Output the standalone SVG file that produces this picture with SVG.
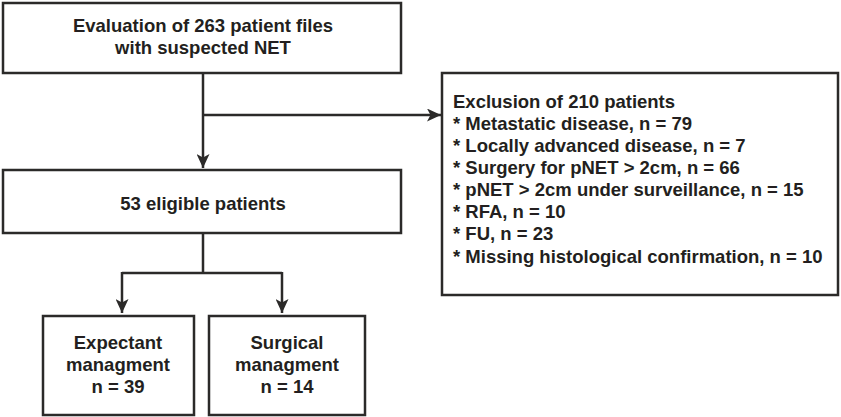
<svg xmlns="http://www.w3.org/2000/svg" width="841" height="417" viewBox="0 0 841 417">
<defs>
<style>
.box{fill:#fff;stroke:#2b2a29;stroke-width:2.5}
.ln{fill:none;stroke:#2b2a29;stroke-width:2.5}
text{font-family:"Liberation Sans",Arial,sans-serif;font-weight:bold;font-size:18.5px;fill:#231f20}
.c{text-anchor:middle}
</style>
<marker id="ah" viewBox="0 0 10 10" refX="10" refY="5" markerWidth="14" markerHeight="13" markerUnits="userSpaceOnUse" orient="auto" preserveAspectRatio="none">
<path d="M0,0 L10,5 L0,10 L2.5,5 Z" fill="#2b2a29"/>
</marker>
</defs>
<rect width="841" height="417" fill="#fff"/>
<g id="connectors">
<path class="ln" d="M203,73 V168" marker-end="url(#ah)"/>
<path class="ln" d="M203,115 H441" marker-end="url(#ah)"/>
<path class="ln" d="M203,233 V273 M122,273 H282"/>
<path class="ln" d="M122,272 V313" marker-end="url(#ah)"/>
<path class="ln" d="M282,272 V313" marker-end="url(#ah)"/>
</g>
<g id="n1">
<rect class="box" x="3" y="3" width="398" height="70"/>
<text class="c" x="203" y="32">Evaluation of 263 patient files</text>
<text class="c" x="203" y="54">with suspected NET</text>
</g>
<g id="n2">
<rect class="box" x="3" y="170" width="398" height="63"/>
<text class="c" x="203" y="210">53 eligible patients</text>
</g>
<g id="n3">
<rect class="box" x="442" y="73" width="396" height="222"/>
<text x="453" y="108">Exclusion of 210 patients</text>
<text x="453" y="130">* Metastatic disease, n = 79</text>
<text x="453" y="152">* Locally advanced disease, n = 7</text>
<text x="453" y="174">* Surgery for pNET &gt; 2cm, n = 66</text>
<text x="453" y="196">* pNET &gt; 2cm under surveillance, n = 15</text>
<text x="453" y="218">* RFA, n = 10</text>
<text x="453" y="240">* FU, n = 23</text>
<text x="453" y="263">* Missing histological confirmation, n = 10</text>
</g>
<g id="n4">
<rect class="box" x="43" y="316" width="151" height="99"/>
<text class="c" x="118" y="349">Expectant</text>
<text class="c" x="118" y="371">managment</text>
<text class="c" x="118" y="393">n = 39</text>
</g>
<g id="n5">
<rect class="box" x="209" y="316" width="156" height="99"/>
<text class="c" x="287" y="349">Surgical</text>
<text class="c" x="287" y="371">managment</text>
<text class="c" x="287" y="393">n = 14</text>
</g>
</svg>
